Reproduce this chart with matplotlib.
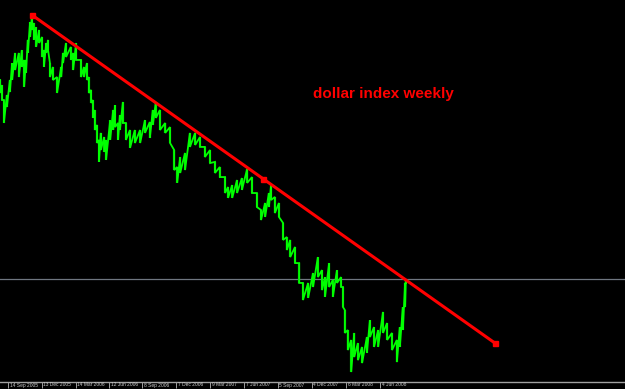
import numpy as np
import matplotlib
matplotlib.use("Agg")
import matplotlib.pyplot as plt
import matplotlib.dates as mdates
import matplotlib.transforms as mtransforms

# ---- data ----
base_date = "2005-09-14"
# offsets (days) from base_date of the sampled weekly bars
bar_days = [-21, -16, -11, -3, 5, 11, 19, 29, 37, 43, 48, 53, 59, 64, 69, 75, 83, 91, 96, 102,
            107, 112, 120, 131, 142, 147, 155, 168, 174, 182, 195, 203, 211, 216, 222, 227, 232, 238, 243, 248,
            257, 262, 273, 281, 286, 294, 299, 307, 315, 326, 339, 353, 366, 379, 387, 395, 406, 420, 433, 444,
            452, 460, 473, 486, 500, 513, 526, 540, 553, 566, 580, 588, 599, 612, 625, 639, 652, 665, 676, 687,
            697, 703, 713, 724, 735, 745, 754, 767, 778, 788, 802, 815, 828, 839, 847, 858, 868, 879, 890, 895,
            900, 908, 917, 925, 935, 946, 959, 967, 978, 989, 1002, 1013, 1026, 1039, 1047, 1055, 1061, 1063]
bar_high = [88.67, 88.36, 87.44, 87.75, 88.67, 89.71, 90.33, 90.33, 90.51, 89.90, 89.90, 91.13, 92.23, 92.60, 92.17, 91.92, 91.74, 91.31, 90.51, 90.94,
            91.13, 89.71, 89.47, 88.85, 89.47, 90.33, 90.94, 90.70, 90.33, 90.94, 89.90, 89.47, 89.71, 88.85, 88.06, 87.44, 86.83, 85.91, 84.99, 85.42,
            85.17, 84.99, 86.21, 86.83, 87.13, 86.03, 86.52, 87.32, 86.03, 85.60, 85.60, 85.60, 86.21, 86.09, 86.83, 87.32, 86.83, 86.03, 85.78, 84.37,
            83.33, 83.94, 84.19, 85.42, 85.42, 85.17, 84.56, 84.37, 83.64, 83.33, 82.71, 82.10, 82.22, 82.53, 82.65, 83.21, 82.71, 81.73, 80.69, 81.12,
            81.73, 82.22, 81.49, 81.12, 79.89, 79.03, 78.85, 78.42, 77.43, 76.21, 76.21, 76.82, 77.80, 77.00, 76.57, 77.43, 76.39, 77.00, 76.57, 75.96,
            74.55, 73.32, 72.71, 73.14, 72.52, 72.28, 72.89, 73.93, 73.50, 73.32, 74.43, 73.75, 73.14, 72.71, 73.50, 74.73, 76.21, 76.39]
bar_low = [87.87, 87.44, 86.03, 87.01, 87.93, 88.67, 89.28, 88.85, 89.47, 88.24, 89.10, 90.33, 91.31, 91.74, 91.13, 90.70, 90.94, 90.08, 89.47, 90.33,
           90.51, 88.85, 88.67, 87.87, 88.85, 89.71, 90.08, 89.90, 89.28, 89.90, 88.85, 88.85, 88.67, 87.87, 87.26, 86.34, 85.60, 84.80, 83.64, 84.37,
           84.25, 83.76, 84.99, 85.60, 85.78, 84.99, 85.60, 86.03, 84.99, 84.50, 84.80, 84.80, 85.42, 85.11, 85.91, 86.34, 85.60, 85.42, 84.80, 83.14,
           82.35, 82.96, 83.14, 84.56, 84.68, 84.56, 83.94, 83.57, 82.96, 82.71, 81.73, 81.43, 81.43, 81.73, 81.92, 82.35, 81.73, 80.87, 80.07, 80.26,
           80.87, 81.30, 80.50, 80.26, 78.85, 78.23, 77.80, 77.43, 76.21, 75.16, 75.29, 75.96, 76.57, 75.77, 75.35, 75.96, 75.35, 76.21, 75.96, 74.73,
           73.14, 72.09, 70.74, 71.66, 71.47, 71.29, 71.91, 72.89, 72.28, 72.28, 73.14, 72.71, 72.09, 71.35, 72.28, 73.32, 74.73, 76.21]

trend_days = [64, 1301]
trend_vals = [92.66, 72.52]
hline_val = 76.45

tick_dates = ["2005-09-14", "2005-12-13", "2006-03-14", "2006-06-12", "2006-09-08", "2006-12-07",
              "2007-03-09", "2007-06-07", "2007-09-05", "2007-12-04", "2008-03-06", "2008-06-04"]
tick_labels = ["14 Sep 2005", "13 Dec 2005", "14 Mar 2006", "12 Jun 2006", "8 Sep 2006", "7 Dec 2006",
               "9 Mar 2007", "7 Jun 2007", "5 Sep 2007", "4 Dec 2007", "6 Mar 2008", "4 Jun 2008"]
title_text = "dollar index weekly"

x_range_days = [-21.4, 1648.6]
y_range = [70.16, 93.58]

# ---- plot ----
b = mdates.date2num(np.datetime64(base_date))
bx = b + np.array(bar_days, dtype=float)
hi = np.array(bar_high)
lo = np.array(bar_low)

fig = plt.figure(figsize=(6.25, 3.89), dpi=100, facecolor="black")
ax = fig.add_axes([0, 7.5 / 389, 1, 381.5 / 389])
ax.set_facecolor("black")

# zigzag through high/low of each bar
zx = np.repeat(bx, 2)
zy = np.column_stack([hi, lo]).ravel()
ax.vlines(bx, lo, hi, color="#00b000", lw=1.6, zorder=2)
ax.plot(zx, zy, color="#00ff00", lw=1.3, solid_joinstyle="miter", zorder=3)

ax.axhline(hline_val, color="#6f7680", lw=0.9, zorder=1)

tx = b + np.array(trend_days, dtype=float)
ax.plot(tx, trend_vals, color="#ff0000", lw=2.2, solid_capstyle="butt", zorder=4)
mx = [tx[0], tx.mean(), tx[1]]
my = [trend_vals[0], np.mean(trend_vals), trend_vals[1]]
ax.plot(mx, my, ls="none", marker="s", ms=3.6, color="#ff0000", zorder=5)

ax.set_xlim(b + x_range_days[0], b + x_range_days[1])
ax.set_ylim(*y_range)

for s in ["top", "left", "right"]:
    ax.spines[s].set_visible(False)
ax.spines["bottom"].set_color("#a0a0a0")
ax.spines["bottom"].set_linewidth(1.0)
ax.set_yticks([])

tpos = [mdates.date2num(np.datetime64(d)) for d in tick_dates]
ax.set_xticks(tpos)
ax.set_xticklabels([])
ax.tick_params(axis="x", direction="out", length=4, width=0.7, color="#a0a0a0")

off = mtransforms.offset_copy(ax.get_xaxis_transform(), fig=fig, x=1.5, y=-1.0, units="dots")
for p, lab in zip(tpos, tick_labels):
    ax.text(p, 0, lab, transform=off, ha="left", va="top", color="#c8c8c8",
            fontsize=3.5, family=["Liberation Sans", "DejaVu Sans"])

fig.text(313 / 625, 1 - 94 / 389, title_text, color="#ff0000", fontsize=11, fontweight="bold",
         family=["Liberation Sans", "DejaVu Sans"], ha="left", va="center")

fig.savefig("out.png", dpi=100, facecolor="black")
